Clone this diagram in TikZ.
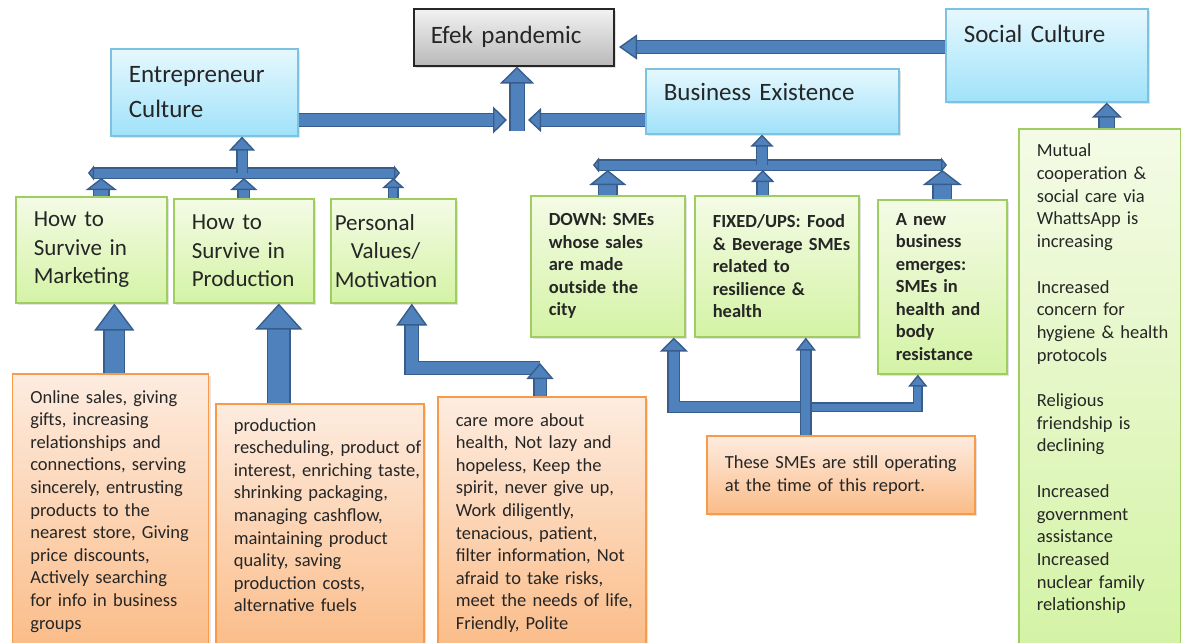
\documentclass[tikz,border=0pt]{standalone}
\usepackage{fontspec}
\setmainfont{Carlito}
\usetikzlibrary{arrows.meta,shadows}

\definecolor{blfill}{RGB}{79,129,189}
\definecolor{bldark}{RGB}{56,93,138}
\definecolor{hdrtop}{RGB}{230,248,254}
\definecolor{hdrbot}{RGB}{160,226,250}
\definecolor{hdrline}{RGB}{125,195,225}
\definecolor{greytop}{RGB}{242,242,242}
\definecolor{greybot}{RGB}{185,185,185}
\definecolor{grntop}{RGB}{244,251,230}
\definecolor{grnbot}{RGB}{212,243,165}
\definecolor{grnline}{RGB}{160,205,95}
\definecolor{orgtop}{RGB}{253,236,224}
\definecolor{orgbot}{RGB}{251,188,136}
\definecolor{orgline}{RGB}{247,155,75}

\begin{document}
\begin{tikzpicture}[x=0.5pt, y=-0.5pt,
  panel/.style={draw, line width=0.8pt, anchor=north west, inner xsep=0pt, inner ysep=1pt, align=left, text=black!85,
    drop shadow={opacity=0.22, shadow xshift=1.2pt, shadow yshift=-1.2pt}},
  lpad/.style={execute at begin node={\leftskip=#1}},
  topbox/.style={panel, lpad=8.5pt, draw=black!85, top color=greytop, bottom color=greybot, font=\fontsize{12.5}{17.5}\selectfont},
  cultbox/.style={panel, lpad=9pt, draw=hdrline, top color=hdrtop, bottom color=hdrbot, font=\fontsize{12.5}{17.5}\selectfont},
  waybox/.style={panel, lpad=9pt, draw=grnline, top color=grntop, bottom color=grnbot, font=\fontsize{11.5}{14.3}\selectfont},
  smebox/.style={panel, lpad=9pt, draw=grnline, top color=grntop, bottom color=grnbot, font=\fontsize{9.25}{11.25}\selectfont\bfseries},
  socbox/.style={panel, lpad=9pt, draw=grnline, top color=grntop, bottom color=grnbot, font=\fontsize{9.25}{11.35}\selectfont},
  itemsbox/.style={panel, lpad=9pt, draw=orgline, top color=orgtop, bottom color=orgbot, font=\fontsize{9.25}{11.3}\selectfont},
  blk/.style n args={3}{draw=blfill, line width=#1,
    -{Triangle[width=#2, length=#3, fill=blfill, color=bldark, line width=0.7pt]},
    preaction={draw=bldark, line width=#1+1.4pt, -, shorten >=#3-0.5pt}},
  bus/.style={draw=blfill, line width=4.5pt,
    {Triangle[width=7.5pt, length=3pt, fill=blfill, color=bldark, line width=0.7pt]}-{Triangle[width=7.5pt, length=3pt, fill=blfill, color=bldark, line width=0.7pt]},
    preaction={draw=bldark, line width=5.9pt, -, shorten >=2.5pt, shorten <=2.5pt}}
]
\useasboundingbox (0,0) rectangle (1181,642);

% top row
\node[topbox, text width=100pt, minimum height=28.5pt] (pand) at (413,8) {Efek pandemic};
\node[cultbox, text width=93.5pt, minimum height=43.5pt] (entcult) at (110,48) {Entrepreneur\\Culture};
\node[cultbox, text width=126.5pt, minimum height=32.5pt] (busexist) at (645,68) {Business Existence\\[-8pt]\mbox{}};
\node[cultbox, text width=101pt, minimum height=46.5pt] (soccult) at (945,8) {Social Culture\\[4pt]\mbox{}};

% entrepreneur culture factors
\node[waybox, text width=75.5pt, minimum height=53pt] (market) at (15,196) {How to\\Survive in\\Marketing};
\node[waybox, text width=70pt, minimum height=52pt] (product) at (173,198) {How to\\Survive in\\Production};
\node[waybox, lpad=2pt, text width=62.5pt, minimum height=52pt] (personal) at (330,198) {Personal\\\hspace*{8pt}Values/\\Motivation};

% business existence groups
\node[smebox, text width=77pt, minimum height=70.5pt] (down) at (530,195) {DOWN: SMEs\\whose sales\\are made\\outside the\\city};
\node[smebox, text width=82pt, minimum height=70.5pt] (fixed) at (694,195) {FIXED/UPS: Food\\\& Beverage SMEs\\related to\\resilience \&\\health};
\node[smebox, text width=64.5pt, minimum height=87pt] (newbiz) at (877,199) {A new\\business\\emerges:\\SMEs in\\health and\\body\\resistance};

% social culture items
\node[socbox, text width=81pt, minimum height=260pt] (socitems) at (1018,128) {Mutual\\cooperation \&\\social care via\\WhattsApp is\\increasing\\[11.35pt]
  Increased\\concern for\\hygiene \& health\\protocols\\[11.35pt]
  Religious\\friendship is\\declining\\[11.35pt]
  Increased\\government\\assistance\\Increased\\nuclear family\\relationship\\\mbox{}};

% lists at the bottom
\node[itemsbox, text width=98pt, minimum height=137.5pt] (online) at (11.5,373) {Online sales, giving\\gifts, increasing\\relationships and\\connections, serving\\sincerely, entrusting\\products to the\\nearest store, Giving\\price discounts,\\Actively searching\\for info in business\\groups};
\node[itemsbox, text width=104pt, minimum height=122.5pt] (prodlist) at (215,403) {production\\rescheduling, product of\\interest, enriching taste,\\shrinking packaging,\\managing cashflow,\\maintaining product\\quality, saving\\production costs,\\alternative fuels\\\mbox{}};
\node[itemsbox, text width=104pt, minimum height=126pt] (carelist) at (437,396) {care more about\\health, Not lazy and\\hopeless, Keep the\\spirit, never give up,\\Work diligently,\\tenacious, patient,\\filter information, Not\\afraid to take risks,\\meet the needs of life,\\Friendly, Polite};
\node[itemsbox, text width=134pt, minimum height=39pt] (stillop) at (706,435) {These SMEs are still operating\\at the time of this report.};

% arrows into Efek pandemic
\coordinate (mergeL) at (507,120);
\coordinate (mergeR) at (528,120);
\coordinate (merge) at (517,131);
\coordinate (scin) at (619,47);
\draw[blk={6pt}{13.5pt}{7pt}] (entcult.east |- mergeL) -- (mergeL);
\draw[blk={6pt}{12pt}{6.5pt}] (busexist.west |- mergeR) -- (mergeR);
\draw[blk={6.5pt}{17pt}{8.5pt}] (merge) -- (merge |- pand.south);
\draw[blk={6pt}{12.5pt}{9pt}] (soccult.west |- scin) -- (scin);

% entrepreneur culture bus
\coordinate (ecbusL) at (88,173);
\coordinate (ecbusR) at (400,173);
\coordinate (ecbus) at (242,173);
\draw[bus] (ecbusL) -- (ecbusR);
\draw[blk={4.5pt}{13pt}{7pt}] (ecbus) -- (ecbus |- entcult.south);
\draw[blk={7pt}{15.5pt}{6pt}] ([xshift=5pt]market.north) -- ++(0,-18);
\draw[blk={5pt}{13.5pt}{6pt}] (product.north) -- ++(0,-20);
\draw[blk={4pt}{11pt}{5pt}] (personal.north) -- ++(0,-20);

% business existence bus
\coordinate (bebusL) at (593,165);
\coordinate (bebusR) at (947,165);
\coordinate (bebus) at (762,165);
\draw[bus] (bebusL) -- (bebusR);
\draw[blk={5pt}{11.5pt}{6pt}] (bebus) -- (bebus |- busexist.south);
\draw[blk={8.5pt}{18.5pt}{7.5pt}] (down.north) -- ++(0,-25);
\draw[blk={5pt}{11.5pt}{6pt}] ([xshift=-7pt]fixed.north) -- ++(0,-25);
\draw[blk={8.5pt}{19.5pt}{7.5pt}] (newbiz.north) -- ++(0,-29);

% social culture
\draw[blk={7pt}{15pt}{7.5pt}] ([xshift=3.5pt]socitems.north) -- ([xshift=3.5pt]socitems.north |- soccult.south);

% lists up to the factors
\draw[blk={9.5pt}{20pt}{13.5pt}] ([xshift=2pt]online.north) -- ([xshift=2pt]online.north |- market.south);
\draw[blk={10.5pt}{23.5pt}{13pt}] ([xshift=-20.5pt]prodlist.north) -- ([xshift=-20.5pt]prodlist.north |- product.south);
\coordinate (carejoin) at (540,368);
\draw[blk={6pt}{15.5pt}{11pt}] (carejoin) -| ([xshift=9.25pt]personal.south);
\draw[blk={5.5pt}{13.5pt}{8pt}] (carelist.north -| carejoin) -- ++(0,-33);

% still operating
\coordinate (opsjoin) at (805,407);
\draw[blk={5pt}{14pt}{7pt}] (opsjoin) -| ([xshift=33pt]down.south);
\draw[blk={3.5pt}{9.5pt}{6pt}] (opsjoin) -| ([xshift=-12.25pt]newbiz.south);
\draw[blk={4.5pt}{10pt}{6.5pt}] ([xshift=-17.5pt]stillop.north) -- ([xshift=-17.5pt]stillop.north |- fixed.south);
\end{tikzpicture}
\end{document}
